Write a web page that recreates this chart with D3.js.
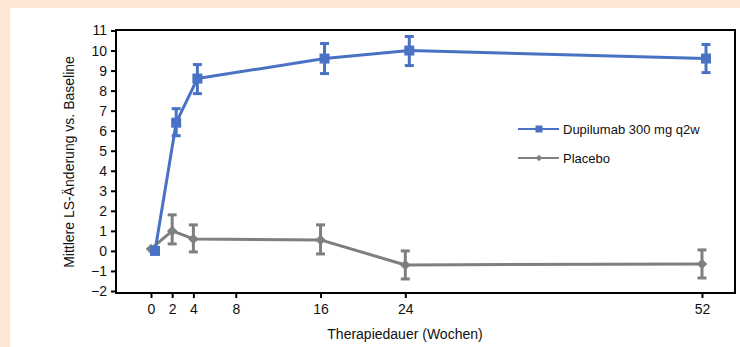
<!DOCTYPE html>
<html>
<head>
<meta charset="utf-8">
<script src="https://cdn.jsdelivr.net/npm/d3@7"></script>
<style>
  html, body { margin: 0; padding: 0; background: #fde6d6; }
  svg { display: block; }
</style>
</head>
<body>
<svg id="chart" width="740" height="347"></svg>
<script>
// ---- Data ----
const weeks = [0, 2, 4, 16, 24, 52];
const xTicks = [0, 2, 4, 8, 16, 24, 52];
const yTicks = [-2, -1, 0, 1, 2, 3, 4, 5, 6, 7, 8, 9, 10, 11];

const dupiMean = [0.0, 6.4, 8.6, 9.6, 10.0, 9.6];
const dupiLow  = [null, 5.75, 7.85, 8.85, 9.25, 8.9];
const dupiHigh = [null, 7.1, 9.3, 10.35, 10.7, 10.3];

const placMean = [0.1, 1.0, 0.6, 0.55, -0.7, -0.65];
const placLow  = [null, 0.35, -0.05, -0.15, -1.4, -1.35];
const placHigh = [null, 1.8, 1.3, 1.3, 0.0, 0.05];

const seriesNames = ["Dupilumab 300 mg q2w", "Placebo"];
const xTitle = "Therapiedauer (Wochen)";
const yTitle = "Mittlere LS-Änderung vs. Baseline";

// ---- Layout ----
const svg = d3.select("#chart");
const W = 740, H = 347;
const BLUE = "#4a72c4", GREY = "#7f7f7f";
const font = "'Liberation Sans', Arial, sans-serif";

svg.append("rect").attr("x", 10).attr("y", 8).attr("width", W - 10).attr("height", H - 8).attr("fill", "#ffffff");

const frame = { left: 116, right: 735, top: 30, bottom: 293 };
const x = d3.scaleLinear().domain([0, 52]).range([151, 702]);
const y = d3.scaleLinear().domain([-2, 11]).range([291, 30.5]);

// Frame
svg.append("rect")
  .attr("x", frame.left).attr("y", frame.top)
  .attr("width", frame.right - frame.left).attr("height", frame.bottom - frame.top)
  .attr("fill", "none").attr("stroke", "#000").attr("stroke-width", 2);

// Y axis
const yAxis = svg.append("g").attr("transform", `translate(${frame.left},0)`)
  .call(d3.axisLeft(y).tickValues(yTicks).tickSize(5).tickPadding(4).tickFormat(d => d < 0 ? "\u2212" + Math.abs(d) : d));
yAxis.select(".domain").remove();
yAxis.selectAll("line").attr("stroke", "#000").attr("stroke-width", 2);
yAxis.selectAll("text").attr("font-family", font).attr("font-size", 14).attr("fill", "#111");

// X axis
const xAxis = svg.append("g").attr("transform", `translate(0,${frame.bottom})`)
  .call(d3.axisBottom(x).tickValues(xTicks).tickSize(5).tickPadding(6));
xAxis.select(".domain").remove();
xAxis.selectAll("line").attr("stroke", "#000").attr("stroke-width", 2);
xAxis.selectAll("text").attr("font-family", font).attr("font-size", 14).attr("fill", "#111");

// Titles
svg.append("text").attr("x", 405).attr("y", 339).attr("text-anchor", "middle")
  .attr("font-family", font).attr("font-size", 14).attr("fill", "#111").text(xTitle);
svg.append("text").attr("transform", "translate(74,162) rotate(-90)").attr("text-anchor", "middle")
  .attr("font-family", font).attr("font-size", 14).attr("fill", "#111").text(yTitle);

// Series drawing
function drawSeries(mean, low, high, color, dx, marker) {
  const pts = weeks.map((w, i) => ({ w, m: mean[i], lo: low[i], hi: high[i] }));
  const line = d3.line().x(d => x(d.w) + dx).y(d => y(d.m));
  const g = svg.append("g");
  g.append("path").datum(pts).attr("d", line).attr("fill", "none")
    .attr("stroke", color).attr("stroke-width", 3).attr("stroke-linejoin", "round");
  const eb = g.selectAll(".eb").data(pts.filter(d => d.lo !== null)).enter().append("g");
  eb.append("line").attr("x1", d => x(d.w) + dx).attr("x2", d => x(d.w) + dx)
    .attr("y1", d => y(d.lo)).attr("y2", d => y(d.hi)).attr("stroke", color).attr("stroke-width", 3);
  [d => d.lo, d => d.hi].forEach(acc => {
    eb.append("line").attr("x1", d => x(d.w) + dx - 4.5).attr("x2", d => x(d.w) + dx + 4.5)
      .attr("y1", d => y(acc(d))).attr("y2", d => y(acc(d))).attr("stroke", color).attr("stroke-width", 3);
  });
  if (marker === "square") {
    g.selectAll(".mk").data(pts).enter().append("rect")
      .attr("x", d => x(d.w) + dx - 5).attr("y", d => y(d.m) - 5)
      .attr("width", 10).attr("height", 10).attr("fill", color);
  } else {
    g.selectAll(".mk").data(pts).enter().append("path")
      .attr("d", d3.symbol(d3.symbolDiamond2, 70)())
      .attr("transform", d => `translate(${x(d.w) + dx},${y(d.m)})`).attr("fill", color);
  }
}

drawSeries(placMean, placLow, placHigh, GREY, 0, "diamond");
drawSeries(dupiMean, dupiLow, dupiHigh, BLUE, 4, "square");

// Legend
const legend = [
  { name: seriesNames[0], color: BLUE, marker: "square", y: 129 },
  { name: seriesNames[1], color: GREY, marker: "diamond", y: 158 }
];
legend.forEach(l => {
  svg.append("line").attr("x1", 518).attr("x2", 559).attr("y1", l.y).attr("y2", l.y)
    .attr("stroke", l.color).attr("stroke-width", 2);
  if (l.marker === "square") {
    svg.append("rect").attr("x", 535.5).attr("y", l.y - 3.5).attr("width", 7).attr("height", 7).attr("fill", l.color);
  } else {
    svg.append("path").attr("d", d3.symbol(d3.symbolDiamond2, 28)())
      .attr("transform", `translate(539,${l.y})`).attr("fill", l.color);
  }
  svg.append("text").attr("x", 563).attr("y", l.y + 4.5).attr("font-family", font)
    .attr("font-size", 13).attr("fill", "#111").text(l.name);
});
</script>
</body>
</html>
